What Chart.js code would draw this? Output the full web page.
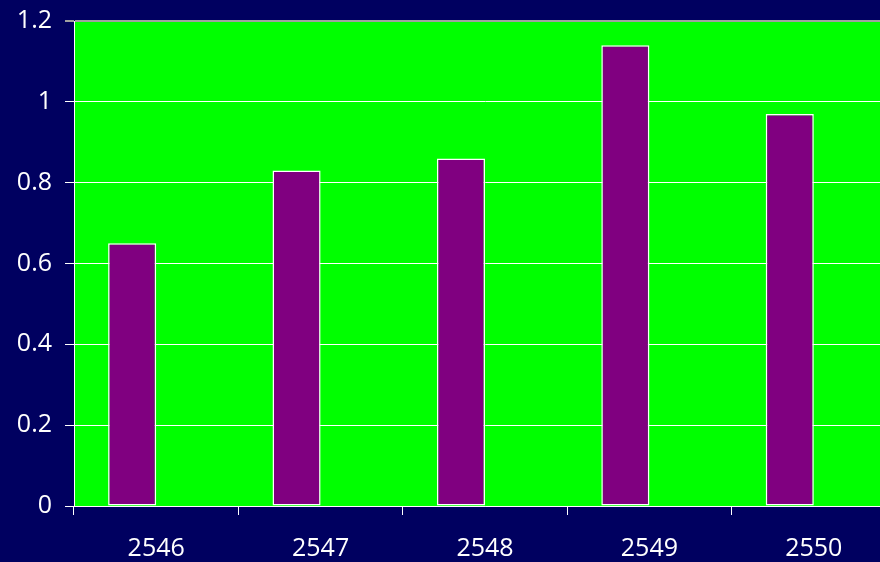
<!DOCTYPE html>
<html>
<head>
<meta charset="utf-8">
<script src="https://cdn.jsdelivr.net/npm/chart.js@4/dist/chart.umd.min.js"></script>
<style>
  html, body { margin: 0; padding: 0; background: #000060; overflow: hidden; width: 880px; height: 562px; }
  #c { display: block; }
</style>
</head>
<body>
<canvas id="c" width="896" height="562"></canvas>
<script>
const categories = ["2546", "2547", "2548", "2549", "2550"];
const values = [0.65, 0.83, 0.86, 1.14, 0.97];
const yTicks = [0, 0.2, 0.4, 0.6, 0.8, 1, 1.2];

const plotBg = {
  id: 'plotBg',
  beforeDraw(chart) {
    const a = chart.chartArea, ctx = chart.ctx;
    ctx.save();
    ctx.fillStyle = '#00FF00';
    ctx.fillRect(a.left, a.top, a.right - a.left, a.bottom - a.top);
    ctx.restore();
  }
};

const font = { family: "'Open Sans', 'Liberation Sans', sans-serif", size: 25 };

new Chart(document.getElementById('c'), {
  type: 'bar',
  data: {
    labels: categories,
    datasets: [
      { data: values, backgroundColor: '#800080', borderColor: '#FFFFFF', borderWidth: 1.5, borderSkipped: false },
      { data: categories.map(() => null), backgroundColor: 'rgba(0,0,0,0)' }
    ]
  },
  options: {
    responsive: false,
    animation: false,
    devicePixelRatio: 1,
    categoryPercentage: 0.585,
    barPercentage: 1,
    layout: { padding: { top: 21, right: 0, bottom: 0, left: 0 } },
    plugins: { legend: { display: false }, tooltip: { enabled: false } },
    scales: {
      x: {
        offset: true,
        grid: { display: true, offset: true, drawOnChartArea: false, drawTicks: true, tickLength: 9, color: '#FFFFFF', lineWidth: 1 },
        border: { display: true, color: '#FFFFFF', width: 1 },
        ticks: { color: '#FFFFFF', font: font, padding: 19, maxRotation: 0 },
        afterFit(s) { s.height = 56; s.paddingLeft = 0; s.paddingRight = 0; }
      },
      y: {
        min: 0, max: 1.2,
        afterBuildTicks(s) { s.ticks = yTicks.map(v => ({ value: v })); },
        grid: {
          color: (ctx) => (ctx.tick && ctx.tick.value === 1.2) ? '#A0A0A0' : '#FFFFFF',
          lineWidth: (ctx) => (ctx.tick && ctx.tick.value === 1.2) ? 2 : 1,
          tickLength: 9, drawTicks: true
        },
        border: { display: true, color: '#FFFFFF', width: 1 },
        ticks: { color: '#FFFFFF', font: font, padding: 13, callback: (v) => String(v) },
        afterFit(s) { s.width = 74; s.paddingTop = 0; s.paddingBottom = 0; }
      }
    }
  },
  plugins: [plotBg]
});
</script>
</body>
</html>
